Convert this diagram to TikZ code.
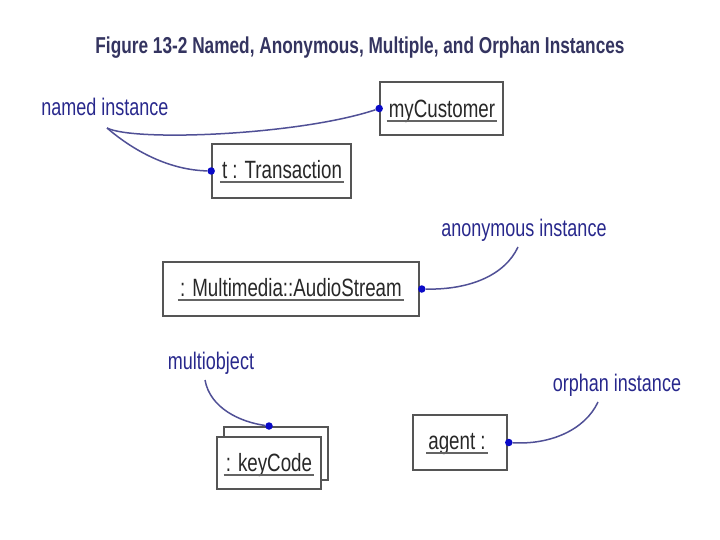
\documentclass[tikz,border=0pt]{standalone}
\usepackage{fontspec}
\setmainfont[FakeStretch=0.75]{Liberation Sans}
\definecolor{titlecol}{RGB}{52,52,96}
\definecolor{labelcol}{RGB}{40,40,140}
\definecolor{linkcol}{RGB}{80,80,150}
\definecolor{dotcol}{RGB}{10,10,200}
\definecolor{boxcol}{RGB}{85,85,85}
\definecolor{txtcol}{RGB}{40,40,40}
\definecolor{ulcol}{RGB}{100,100,100}
\tikzset{
  objbox/.style={draw=boxcol, line width=1.6pt, fill=white, inner sep=0pt},
  objtext/.style={text=txtcol, font=\fontsize{25}{25}\selectfont, inner sep=1pt, text depth=0.22em},
  ul/.style={draw=ulcol, line width=1.8pt},
  note/.style={text=labelcol, font=\fontsize{24}{24}\selectfont, inner sep=0pt},
  link/.style={draw=linkcol, line width=1.5pt},
  dot/.style={circle, fill=dotcol, inner sep=0pt, minimum size=7.5pt}
}
\begin{document}
\begin{tikzpicture}[x=1pt, y=-1pt]
\useasboundingbox (0,0) rectangle (720,540);
% title
\node[text=titlecol, font=\bfseries\fontsize{23}{23}\selectfont] (title) at (360,48) {Figure 13-2 Named, Anonymous, Multiple, and Orphan Instances};

% named instance
\node[note] (named) at (105,107) {named instance};
\coordinate (n0) at (107,128);
\node[objbox, minimum width=123pt, minimum height=53pt] (mc) at (441.5,108.5) {};
\node[objtext] (mcT) at (442,110) {myCustomer};
\draw[ul] ([xshift=-1pt]mcT.south west) -- ([xshift=1pt]mcT.south east);
\node[objbox, minimum width=139pt, minimum height=54pt] (tr) at (281.5,171) {};
\node[objtext] (trT) at (282,171) {t : Transaction};
\draw[ul] ([xshift=-1pt]trT.south west) -- ([xshift=1pt]trT.south east);
\node[dot] (dmc) at (mc.west) {};
\node[dot] (dtr) at (tr.west) {};
\draw[link] (n0) .. controls (135,142) and (300,135) .. (dmc);
\draw[link] (n0) .. controls (135,152) and (170,170) .. (dtr);

% anonymous instance
\node[objbox, minimum width=256pt, minimum height=54pt] (as) at (291,289) {};
\node[objtext] (asT) at (291,289) {: Multimedia::AudioStream};
\draw[ul] ([xshift=-1pt]asT.south west) -- ([xshift=1pt]asT.south east);
\node[dot] (das) at ([xshift=2pt]as.east) {};
\node[note] (anon) at (524,230) {anonymous instance};
\coordinate (a0) at (518,247);
\draw[link] (das) .. controls (470,290) and (505,275) .. (a0);

% multiobject
\node[objbox, minimum width=104pt, minimum height=53pt] (kb) at (276,453.5) {};
\node[objbox, minimum width=104pt, minimum height=52pt] (kf) at (269,463) {};
\node[objtext] (kT) at (269,464) {: keyCode};
\draw[ul] ([xshift=-1pt]kT.south west) -- ([xshift=1pt]kT.south east);
\node[dot] (dk) at (269,426) {};
\node[note] (multi) at (211,363) {multiobject};
\coordinate (m0) at (205,380);
\draw[link] (m0) .. controls (210,408) and (240,422) .. (dk);

% orphan instance
\node[objbox, minimum width=94pt, minimum height=55pt] (ag) at (460,442.5) {};
\node[objtext] (agT) at (457,443) {agent :};
\draw[ul] ([xshift=-1pt]agT.south west) -- ([xshift=1pt]agT.south east);
\node[dot] (dag) at ([xshift=1pt]ag.east) {};
\node[note] (orph) at (617,385) {orphan instance};
\coordinate (o0) at (598,402);
\draw[link] (dag) .. controls (550,445) and (585,430) .. (o0);
\end{tikzpicture}
\end{document}
